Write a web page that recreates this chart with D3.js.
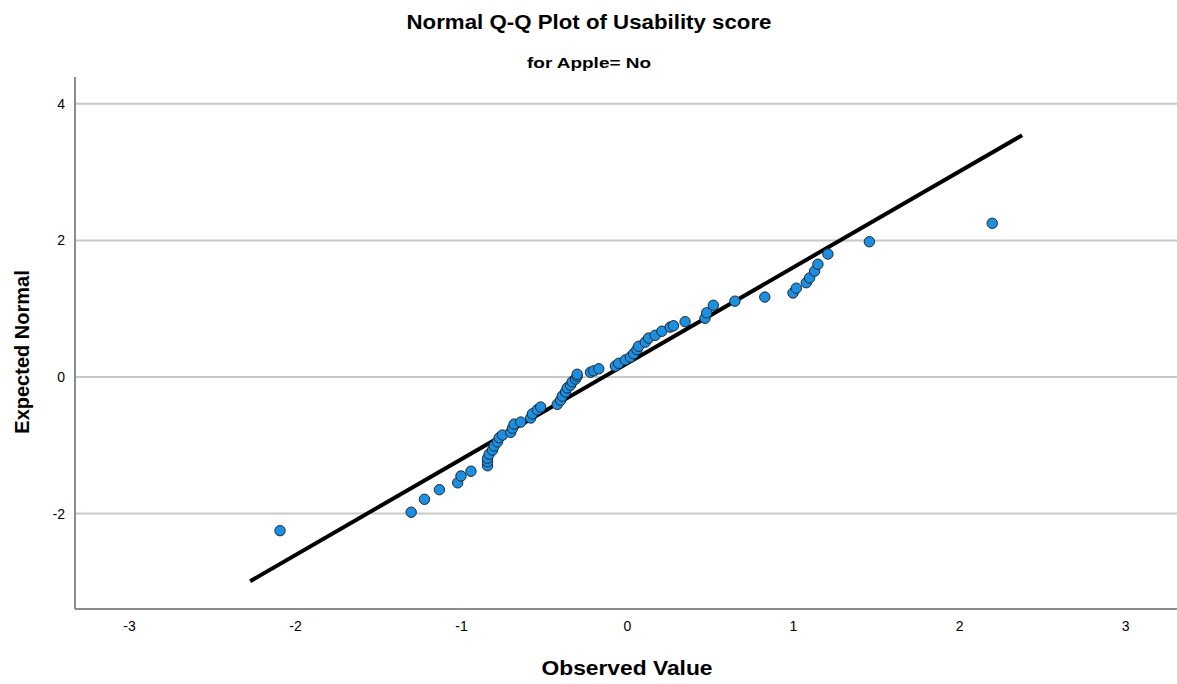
<!DOCTYPE html>
<html>
<head>
<meta charset="utf-8">
<script src="https://cdn.jsdelivr.net/npm/d3@7"></script>
<style>
  html, body { margin: 0; padding: 0; background: #fff; }
  svg { display: block; font-family: "Liberation Sans", Arial, sans-serif; }
</style>
</head>
<body>
<svg id="chart" width="1177" height="684"></svg>
<script>
// Observed values (x) and their expected normal scores (y)
const observed = [
  -2.09, -1.30, -1.22, -1.13, -1.02, -1.00, -0.94, -0.84, -0.84, -0.84,
  -0.83, -0.81, -0.80, -0.78, -0.77, -0.75, -0.70, -0.69, -0.68, -0.64,
  -0.58, -0.57, -0.54, -0.52, -0.42, -0.40, -0.39, -0.37, -0.36, -0.34,
  -0.33, -0.31, -0.30, -0.30, -0.22, -0.20, -0.17, -0.07, -0.05, -0.01,
   0.02,  0.04,  0.06,  0.07,  0.11,  0.13,  0.17,  0.21,  0.26,  0.28,
   0.35,  0.47,  0.48,  0.52,  0.65,  0.83,  1.00,  1.02,  1.08,  1.10,
   1.13,  1.15,  1.21,  1.46,  2.20
];
const expectedNormal = [
  -2.25, -1.98, -1.79, -1.65, -1.55, -1.45, -1.38, -1.30, -1.24, -1.19,
  -1.13, -1.07, -1.01, -0.95, -0.89, -0.85, -0.81, -0.75, -0.69, -0.66,
  -0.60, -0.54, -0.48, -0.44, -0.40, -0.34, -0.28, -0.22, -0.16, -0.12,
  -0.07, -0.03,  0.01,  0.04,  0.07,  0.09,  0.12,  0.16,  0.20,  0.25,
   0.29,  0.34,  0.40,  0.45,  0.51,  0.57,  0.61,  0.67,  0.73,  0.75,
   0.81,  0.86,  0.94,  1.05,  1.11,  1.17,  1.23,  1.30,  1.38,  1.45,
   1.55,  1.65,  1.80,  1.98,  2.25
];

// Reference line end points
const refLineX = [-2.27, 2.38];
const refLineY = [-2.99, 3.54];

// Axis ticks
const xTicks = [-3, -2, -1, 0, 1, 2, 3];
const yTicks = [-2, 0, 2, 4];

const svg = d3.select("#chart");
const plot = { left: 75, right: 1177, top: 77, bottom: 609 };

const x = d3.scaleLinear().domain([-3.325, 3.313]).range([plot.left, plot.right]);
const y = d3.scaleLinear().domain([-3.397, 4.392]).range([plot.bottom, plot.top]);

// Plain hyphen-minus for negative tick labels
const tickFmt = d => String(d);

// Centered bold text helper with a fixed rendered width
function boldText(cx, by, size, width, str) {
  return svg.append("text")
    .attr("x", cx - width / 2).attr("y", by)
    .attr("textLength", width).attr("lengthAdjust", "spacingAndGlyphs")
    .style("font-size", size + "px").style("font-weight", "bold").attr("fill", "#000")
    .text(str);
}

// Titles
boldText(589, 29, 20, 365, "Normal Q-Q Plot of Usability score");
boldText(589, 68, 15, 124, "for Apple= No");

// Horizontal grid lines
svg.append("g")
  .selectAll("line")
  .data(yTicks)
  .join("line")
  .attr("x1", plot.left).attr("x2", plot.right)
  .attr("y1", d => y(d)).attr("y2", d => y(d))
  .attr("stroke", "#c8c8c8").attr("stroke-width", 2);

// Y axis
const yAxis = svg.append("g")
  .attr("transform", `translate(${plot.left},0)`)
  .call(d3.axisLeft(y).tickValues(yTicks).tickSize(0).tickPadding(10).tickFormat(tickFmt));
yAxis.select(".domain").attr("stroke", "#8c8c8c").attr("stroke-width", 2)
  .attr("d", `M0,${plot.top}V${plot.bottom}`);
yAxis.selectAll("text").style("font-size", "14px").attr("fill", "#000")
  .style("font-family", "'Liberation Sans', Arial, sans-serif");

// X axis
const xAxis = svg.append("g")
  .attr("transform", `translate(0,${plot.bottom})`)
  .call(d3.axisBottom(x).tickValues(xTicks).tickSize(0).tickPadding(12).tickFormat(tickFmt));
xAxis.select(".domain").attr("stroke", "#8c8c8c").attr("stroke-width", 2)
  .attr("d", `M${plot.left},0H${plot.right}`);
xAxis.selectAll("text").style("font-size", "14px").attr("fill", "#000")
  .style("font-family", "'Liberation Sans', Arial, sans-serif");

// Axis titles
boldText(627, 675, 20, 171, "Observed Value");
svg.append("text")
  .attr("transform", "translate(29,352) rotate(-90)")
  .attr("text-anchor", "middle")
  .style("font-size", "20px").style("font-weight", "bold").attr("fill", "#000")
  .text("Expected Normal");

// Reference line
svg.append("line")
  .attr("x1", x(refLineX[0])).attr("y1", y(refLineY[0]))
  .attr("x2", x(refLineX[1])).attr("y2", y(refLineY[1]))
  .attr("stroke", "#000").attr("stroke-width", 4);

// Points
const points = observed.map((v, i) => ({ v, e: expectedNormal[i] }));
svg.append("g")
  .selectAll("circle")
  .data(points)
  .join("circle")
  .attr("cx", d => x(d.v))
  .attr("cy", d => y(d.e))
  .attr("r", 5.2)
  .attr("fill", "#1c8fe0")
  .attr("stroke", "#1b2a38")
  .attr("stroke-width", 1);
</script>
</body>
</html>
